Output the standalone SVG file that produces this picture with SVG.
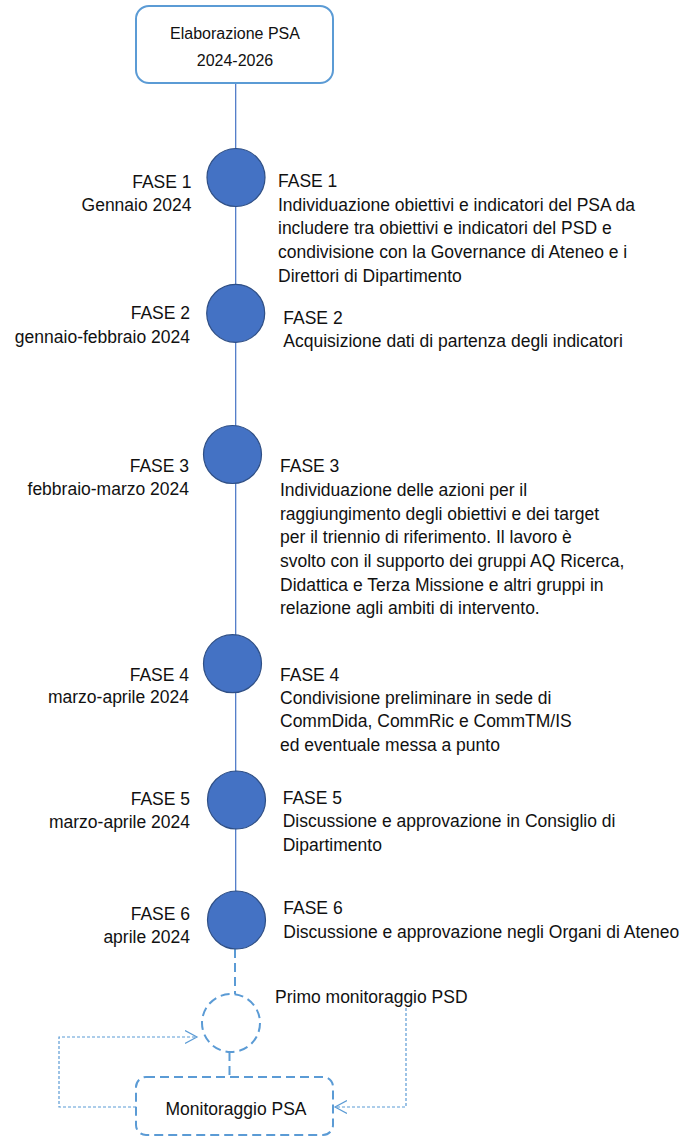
<svg xmlns="http://www.w3.org/2000/svg" width="680" height="1137" viewBox="0 0 680 1137">
<defs>
<style>
text{font-family:"Liberation Sans",Arial,sans-serif;font-size:17.5px;fill:#111;}
.l{text-anchor:end;}
.c{text-anchor:middle;}
.dot{fill:#4472c4;stroke:#2f4f85;stroke-width:1.2;}
.spine{stroke:#4472c4;stroke-width:1.2;fill:none;}
.dash{stroke:#5b9bd5;stroke-width:2;fill:none;stroke-dasharray:9,5;}
.loop{stroke:#5b9bd5;stroke-width:1.2;fill:none;stroke-dasharray:3,2;}
</style>
<marker id="arr" markerUnits="userSpaceOnUse" markerWidth="16" markerHeight="16" refX="12" refY="7" orient="auto">
<path d="M0,0.5 L12,7 L0,13.5" fill="none" stroke="#5b9bd5" stroke-width="1.2"/>
</marker>
</defs>
<rect width="680" height="1137" fill="#fff"/>

<g id="connectors">
<line class="spine" x1="235.7" y1="83" x2="235.7" y2="891"/>
<line class="dash" x1="235" y1="949" x2="235" y2="994" stroke-width="1.2" stroke-dasharray="6,4"/>
<line class="dash" x1="229.5" y1="1052" x2="229.5" y2="1077" stroke-width="1.2" stroke-dasharray="6,4"/>
<path class="loop" d="M136,1107 H59 V1037 H197" marker-end="url(#arr)"/>
<path class="loop" d="M406,1008 V1107 H335" marker-end="url(#arr)"/>
</g>

<g id="start">
<rect x="136" y="6" width="197" height="77" rx="13" fill="#fff" stroke="#5b9bd5" stroke-width="2"/>
<text class="c" x="235" y="39" style="font-size:16px">Elaborazione PSA</text>
<text class="c" x="235" y="66" style="font-size:16px">2024-2026</text>
</g>

<g id="fase1">
<circle class="dot" cx="236" cy="177.5" r="29"/>
<text class="l" x="191.5" y="188">FASE 1</text>
<text class="l" x="191.5" y="211">Gennaio 2024</text>
<text x="278" y="186.5">FASE 1</text>
<text x="278" y="210.5">Individuazione obiettivi e indicatori del PSA da</text>
<text x="278" y="234">includere tra obiettivi e indicatori del PSD e</text>
<text x="278" y="258">condivisione con la Governance di Ateneo e i</text>
<text x="278" y="281.5">Direttori di Dipartimento</text>
</g>

<g id="fase2">
<circle class="dot" cx="235.7" cy="313.3" r="29"/>
<text class="l" x="190" y="319">FASE 2</text>
<text class="l" x="190" y="342.5">gennaio-febbraio 2024</text>
<text x="283.3" y="323.5">FASE 2</text>
<text x="283.3" y="347">Acquisizione dati di partenza degli indicatori</text>
</g>

<g id="fase3">
<circle class="dot" cx="232.5" cy="454.5" r="29"/>
<text class="l" x="189" y="472">FASE 3</text>
<text class="l" x="189" y="495">febbraio-marzo 2024</text>
<text x="280" y="472">FASE 3</text>
<text x="280" y="496">Individuazione delle azioni per il</text>
<text x="280" y="519.5">raggiungimento degli obiettivi e dei target</text>
<text x="280" y="543">per il triennio di riferimento. Il lavoro è</text>
<text x="280" y="567">svolto con il supporto dei gruppi AQ Ricerca,</text>
<text x="280" y="590.5">Didattica e Terza Missione e altri gruppi in</text>
<text x="280" y="614">relazione agli ambiti di intervento.</text>
</g>

<g id="fase4">
<circle class="dot" cx="232.5" cy="663.7" r="29"/>
<text class="l" x="189" y="681">FASE 4</text>
<text class="l" x="189" y="703">marzo-aprile 2024</text>
<text x="280" y="680.7">FASE 4</text>
<text x="280" y="703.5">Condivisione preliminare in sede di</text>
<text x="280" y="727">CommDida, CommRic e CommTM/IS</text>
<text x="280" y="750.7">ed eventuale messa a punto</text>
</g>

<g id="fase5">
<circle class="dot" cx="236.5" cy="800" r="29"/>
<text class="l" x="190" y="805">FASE 5</text>
<text class="l" x="190" y="828">marzo-aprile 2024</text>
<text x="282.7" y="803.5">FASE 5</text>
<text x="282.7" y="827">Discussione e approvazione in Consiglio di</text>
<text x="282.7" y="850.7">Dipartimento</text>
</g>

<g id="fase6">
<circle class="dot" cx="236.5" cy="920" r="29"/>
<text class="l" x="190" y="920">FASE 6</text>
<text class="l" x="190" y="943">aprile 2024</text>
<text x="283.3" y="914">FASE 6</text>
<text x="283.3" y="937.5">Discussione e approvazione negli Organi di Ateneo</text>
</g>

<g id="primo-monitoraggio">
<circle class="dash" cx="231" cy="1023" r="29"/>
<text x="275" y="1003">Primo monitoraggio PSD</text>
</g>

<g id="monitoraggio-psa">
<rect class="dash" x="136" y="1077" width="197" height="58" rx="10"/>
<text class="c" x="236" y="1115">Monitoraggio PSA</text>
</g>
</svg>
